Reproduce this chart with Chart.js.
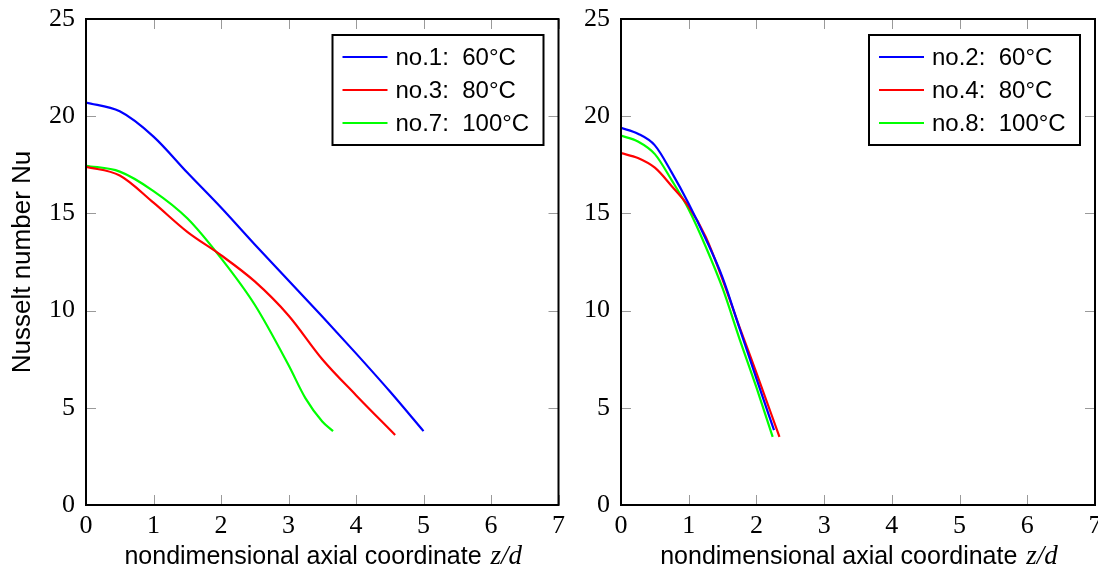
<!DOCTYPE html>
<html>
<head>
<meta charset="utf-8">
<script src="https://cdn.jsdelivr.net/npm/chart.js@4/dist/chart.umd.min.js"></script>
<style>
    html, body { margin: 0; padding: 0; background: #fff; overflow: hidden; }
    body { width: 1098px; height: 578px; position: relative; }
    canvas { position: absolute; top: 0; }
</style>
</head>
<body>
<canvas id="nu-left" width="565" height="578" style="left:0"></canvas>
<canvas id="nu-right" width="545" height="578" style="left:565px"></canvas>
<script>
// x ticks / y ticks
const xTicks = [0, 1, 2, 3, 4, 5, 6, 7];
const yTicks = [0, 5, 10, 15, 20, 25];

// left panel
const z1 = [0, 0.5, 1, 1.5, 2, 2.5, 3, 3.5, 4, 4.5, 5];
const nu1 = [20.7, 20.25, 18.95, 17.1, 15.3, 13.4, 11.55, 9.7, 7.8, 5.85, 3.8];
const z3 = [0, 0.5, 1, 1.5, 2, 2.5, 3, 3.5, 4, 4.58];
const nu3 = [17.4, 16.95, 15.55, 14.05, 12.85, 11.5, 9.75, 7.5, 5.65, 3.6];
const z7 = [0, 0.5, 1, 1.5, 2, 2.5, 3, 3.25, 3.5, 3.66];
const nu7 = [17.45, 17.15, 16.15, 14.75, 12.7, 10.3, 7.2, 5.5, 4.3, 3.8];

// right panel
const z2 = [0, 0.25, 0.5, 0.75, 1, 1.25, 1.5, 1.75, 2, 2.26];
const nu2 = [19.4, 19.1, 18.5, 17.1, 15.5, 13.7, 11.7, 9.1, 6.5, 3.85];
const z4 = [0, 0.25, 0.5, 0.75, 1, 1.25, 1.5, 1.75, 2, 2.34];
const nu4 = [18.1, 17.85, 17.35, 16.4, 15.35, 13.8, 11.6, 9.15, 6.8, 3.5];
const z8 = [0, 0.25, 0.5, 0.75, 1, 1.25, 1.5, 1.75, 2, 2.24];
const nu8 = [19.0, 18.7, 18.05, 16.7, 15.2, 13.3, 11.15, 8.55, 6.05, 3.5];

const SANS = "'Liberation Sans', Arial, sans-serif";
const SERIF = "'Liberation Serif', serif";

function series(label, xs, ys, color) {
    return {
        label: label,
        data: xs.map((x, i) => ({ x: x, y: ys[i] })),
        borderColor: color,
        backgroundColor: color,
        borderWidth: 2.2,
        pointRadius: 0,
        fill: false,
        cubicInterpolationMode: "monotone",
    };
}

// ticks inside, black frame, legend box and x title
const pgfLook = {
    id: "pgfLook",
    beforeDatasetsDraw(chart) {
        const { ctx, chartArea: a, scales } = chart;
        ctx.save();
        ctx.strokeStyle = "#9a9a9a";
        ctx.lineWidth = 1;
        ctx.beginPath();
        xTicks.forEach((v) => {
            const px = Math.round(scales.x.getPixelForValue(v)) + 0.5;
            ctx.moveTo(px, a.bottom);
            ctx.lineTo(px, a.bottom - 10);
            ctx.moveTo(px, a.top);
            ctx.lineTo(px, a.top + 10);
        });
        yTicks.forEach((v) => {
            const py = Math.round(scales.y.getPixelForValue(v)) + 0.5;
            ctx.moveTo(a.left, py);
            ctx.lineTo(a.left + 10, py);
            ctx.moveTo(a.right, py);
            ctx.lineTo(a.right - 10, py);
        });
        ctx.stroke();
        ctx.restore();
    },
    afterDraw(chart) {
        const { ctx, chartArea: a } = chart;
        ctx.save();
        // frame
        ctx.strokeStyle = "#000";
        ctx.lineWidth = 2;
        ctx.strokeRect(a.left, a.top, a.right - a.left, a.bottom - a.top);

        // legend
        const boxW = 211, boxH = 110;
        const bx = a.right - 15 - boxW;
        const by = a.top + 16;
        ctx.fillStyle = "#fff";
        ctx.fillRect(bx, by, boxW, boxH);
        ctx.strokeRect(bx, by, boxW, boxH);
        ctx.font = "24px " + SANS;
        ctx.textBaseline = "middle";
        ctx.textAlign = "left";
        chart.data.datasets.forEach((ds, i) => {
            const ry = by + 22 + i * 33;
            ctx.strokeStyle = ds.borderColor;
            ctx.lineWidth = 2;
            ctx.beginPath();
            ctx.moveTo(bx + 10, ry);
            ctx.lineTo(bx + 55, ry);
            ctx.stroke();
            ctx.fillStyle = "#000";
            ctx.fillText(ds.label.replace(": ", ":  "), bx + 63, ry + 1);
        });

        // x axis title: sans text + italic z/d
        const part1 = "nondimensional axial coordinate ";
        const part2 = "z/d";
        ctx.font = "25px " + SANS;
        const w1 = ctx.measureText(part1).width;
        ctx.font = "italic 27px " + SERIF;
        const w2 = ctx.measureText(part2).width;
        const cx = (a.left + a.right) / 2;
        const tx = cx - (w1 + w2) / 2;
        const ty = 564;
        ctx.textBaseline = "alphabetic";
        ctx.fillStyle = "#000";
        ctx.font = "25px " + SANS;
        ctx.fillText(part1, tx, ty);
        ctx.font = "italic 27px " + SERIF;
        ctx.fillText(part2, tx + w1 + 2, ty);
        ctx.restore();
    },
};

function makeChart(id, datasets, yWidth, padRight, yTitle) {
    return new Chart(document.getElementById(id), {
        type: "line",
        data: { datasets: datasets },
        options: {
            responsive: false,
            animation: false,
            events: [],
            layout: { padding: { top: 19, right: padRight, bottom: 0, left: 0 } },
            plugins: {
                legend: { display: false },
                tooltip: { enabled: false },
            },
            scales: {
                x: {
                    type: "linear",
                    min: 0,
                    max: 7,
                    grid: { display: false, drawTicks: false },
                    border: { display: false },
                    ticks: {
                        stepSize: 1,
                        autoSkip: false,
                        maxRotation: 0,
                        padding: 0,
                        color: "#000",
                        font: { family: SERIF, size: 26, lineHeight: 1.66 },
                    },
                    afterFit: (s) => {
                        s.height = 73;
                    },
                },
                y: {
                    min: 0,
                    max: 25,
                    grid: { display: false, drawTicks: false },
                    border: { display: false },
                    ticks: {
                        stepSize: 5,
                        padding: 11,
                        color: "#000",
                        font: { family: SERIF, size: 26, lineHeight: 0.5 },
                    },
                    title: {
                        display: !!yTitle,
                        text: yTitle || "",
                        color: "#000",
                        padding: { top: 7, bottom: 0 },
                        font: { family: SANS, size: 26 },
                    },
                    afterFit: (s) => {
                        s.width = yWidth;
                    },
                },
            },
        },
        plugins: [pgfLook],
    });
}

const leftChart = makeChart(
    "nu-left",
    [
        series("no.1: 60°C", z1, nu1, "#0000ff"),
        series("no.3: 80°C", z3, nu3, "#ff0000"),
        series("no.7: 100°C", z7, nu7, "#00ff00"),
    ],
    86,
    6,
    "Nusselt number Nu"
);

const rightChart = makeChart(
    "nu-right",
    [
        series("no.2: 60°C", z2, nu2, "#0000ff"),
        series("no.4: 80°C", z4, nu4, "#ff0000"),
        series("no.8: 100°C", z8, nu8, "#00ff00"),
    ],
    56,
    15,
    null
);
</script>
</body>
</html>
